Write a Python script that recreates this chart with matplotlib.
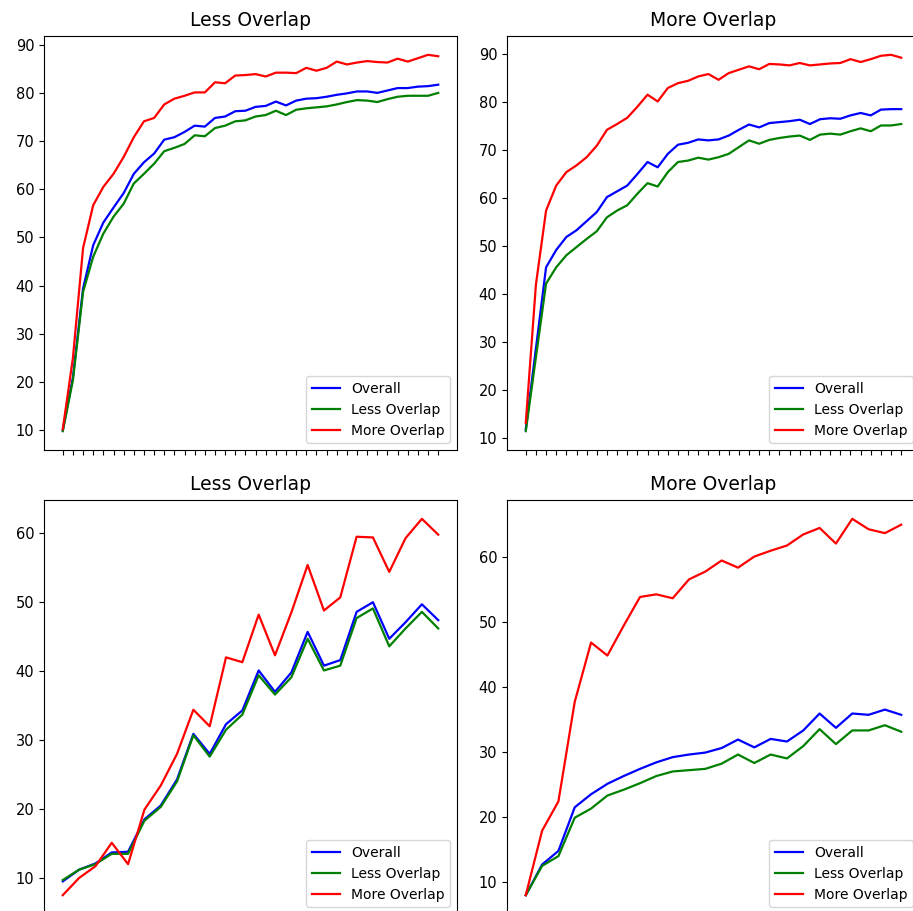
import matplotlib
matplotlib.use("Agg")
import matplotlib.pyplot as plt
import numpy as np

labels = ["Overall", "Less Overlap", "More Overlap"]
colors = ["blue", "green", "red"]
titles = ["Less Overlap", "More Overlap", "Less Overlap", "More Overlap"]

# Top-left panel (38 points)
tl_overall = [10.0, 21.0, 39.4, 48.4, 53.1, 56.2, 59.2, 63.2, 65.6, 67.4, 70.3, 70.8, 71.9, 73.2, 73.0,
              74.8, 75.1, 76.2, 76.3, 77.1, 77.3, 78.2, 77.4, 78.4, 78.8, 78.9, 79.2, 79.6, 79.9, 80.3,
              80.3, 80.0, 80.5, 81.0, 81.0, 81.3, 81.4, 81.7]
tl_less = [9.8, 20.4, 38.7, 46.0, 50.8, 54.3, 57.0, 61.2, 63.2, 65.3, 67.9, 68.6, 69.4, 71.2, 71.0,
           72.7, 73.2, 74.1, 74.3, 75.1, 75.4, 76.3, 75.4, 76.5, 76.8, 77.0, 77.2, 77.6, 78.1, 78.5,
           78.4, 78.1, 78.7, 79.2, 79.4, 79.4, 79.4, 80.0]
tl_more = [10.2, 25.0, 47.8, 56.7, 60.5, 63.2, 66.7, 70.8, 74.1, 74.8, 77.6, 78.8, 79.4, 80.1, 80.1,
           82.2, 82.0, 83.6, 83.7, 83.9, 83.4, 84.2, 84.2, 84.1, 85.2, 84.6, 85.2, 86.5, 85.9, 86.3,
           86.6, 86.4, 86.3, 87.1, 86.5, 87.2, 87.9, 87.6]

# Top-right panel (38 points)
tr_overall = [11.9, 28.7, 45.6, 49.2, 51.9, 53.3, 55.2, 57.1, 60.2, 61.4, 62.6, 65.0, 67.5, 66.4, 69.2,
              71.1, 71.5, 72.2, 72.0, 72.2, 73.0, 74.2, 75.3, 74.7, 75.6, 75.8, 76.0, 76.3, 75.4, 76.4,
              76.6, 76.5, 77.2, 77.7, 77.2, 78.4, 78.5, 78.5]
tr_less = [11.5, 26.9, 42.2, 45.6, 48.1, 49.8, 51.5, 53.1, 56.0, 57.4, 58.5, 60.9, 63.1, 62.4, 65.4,
           67.5, 67.8, 68.4, 68.0, 68.5, 69.2, 70.6, 72.0, 71.3, 72.1, 72.5, 72.8, 73.0, 72.1, 73.2,
           73.4, 73.2, 73.9, 74.5, 73.9, 75.1, 75.1, 75.4]
tr_more = [13.2, 42.0, 57.4, 62.6, 65.4, 66.8, 68.5, 70.9, 74.2, 75.4, 76.7, 79.0, 81.5, 80.1, 82.9,
           83.9, 84.4, 85.3, 85.8, 84.6, 86.0, 86.7, 87.4, 86.8, 87.9, 87.8, 87.6, 88.1, 87.6, 87.8,
           88.0, 88.1, 88.9, 88.3, 88.9, 89.6, 89.8, 89.2]

# Bottom-left panel (24 points)
bl_overall = [9.5, 11.2, 12.1, 13.7, 13.8, 18.5, 20.5, 24.3, 30.9, 28.0, 32.3, 34.3,
              40.1, 37.0, 39.8, 45.7, 40.8, 41.6, 48.6, 50.0, 44.7, 47.1, 49.7, 47.4]
bl_less = [9.7, 11.2, 12.0, 13.5, 13.5, 18.3, 20.3, 24.0, 30.7, 27.6, 31.5, 33.7,
           39.4, 36.6, 39.1, 44.7, 40.1, 40.8, 47.7, 49.1, 43.6, 46.2, 48.6, 46.2]
bl_more = [7.5, 10.0, 11.7, 15.1, 12.0, 19.9, 23.4, 28.0, 34.4, 32.0, 42.0, 41.3,
           48.2, 42.3, 48.5, 55.4, 48.8, 50.7, 59.5, 59.4, 54.4, 59.3, 62.1, 59.8]

# Bottom-right panel (24 points)
br_overall = [8.0, 12.7, 14.8, 21.5, 23.5, 25.1, 26.3, 27.4, 28.4, 29.2, 29.6, 29.9,
              30.6, 31.9, 30.7, 32.0, 31.6, 33.3, 35.9, 33.7, 35.9, 35.7, 36.5, 35.7]
br_less = [8.0, 12.5, 14.0, 19.9, 21.3, 23.3, 24.2, 25.2, 26.3, 27.0, 27.2, 27.4,
           28.2, 29.6, 28.3, 29.6, 29.0, 30.9, 33.5, 31.2, 33.3, 33.3, 34.1, 33.1]
br_more = [8.0, 17.9, 22.4, 37.7, 46.8, 44.8, 49.4, 53.8, 54.2, 53.6, 56.5, 57.7,
           59.4, 58.3, 60.0, 60.9, 61.7, 63.4, 64.4, 62.0, 65.8, 64.2, 63.6, 64.9]

panels = [
    (tl_overall, tl_less, tl_more),
    (tr_overall, tr_less, tr_more),
    (bl_overall, bl_less, bl_more),
    (br_overall, br_less, br_more),
]

W, H = 913, 911
fig = plt.figure(figsize=(W / 100, H / 100), dpi=100)

# axes boxes in pixels: (left, top, width, height)
boxes = [(44, 36, 413, 414), (507, 36, 413, 414), (44, 500, 413, 414), (507, 500, 413, 414)]

for (l, t, w, h), title, series in zip(boxes, titles, panels):
    ax = fig.add_axes([l / W, (H - t - h) / H, w / W, h / H])
    n = len(series[0])
    x = np.arange(n)
    for s, c, lab in zip(series, colors, labels):
        ax.plot(x, s, color=c, label=lab, linewidth=1.6)
    ax.set_xticks(x)
    ax.set_xticklabels([])
    ax.tick_params(labelsize=10.5)
    ax.set_title(title, fontsize=13.5, pad=7)
    ax.legend(loc="lower right", fontsize=10)

fig.savefig("out.png", dpi=100)
